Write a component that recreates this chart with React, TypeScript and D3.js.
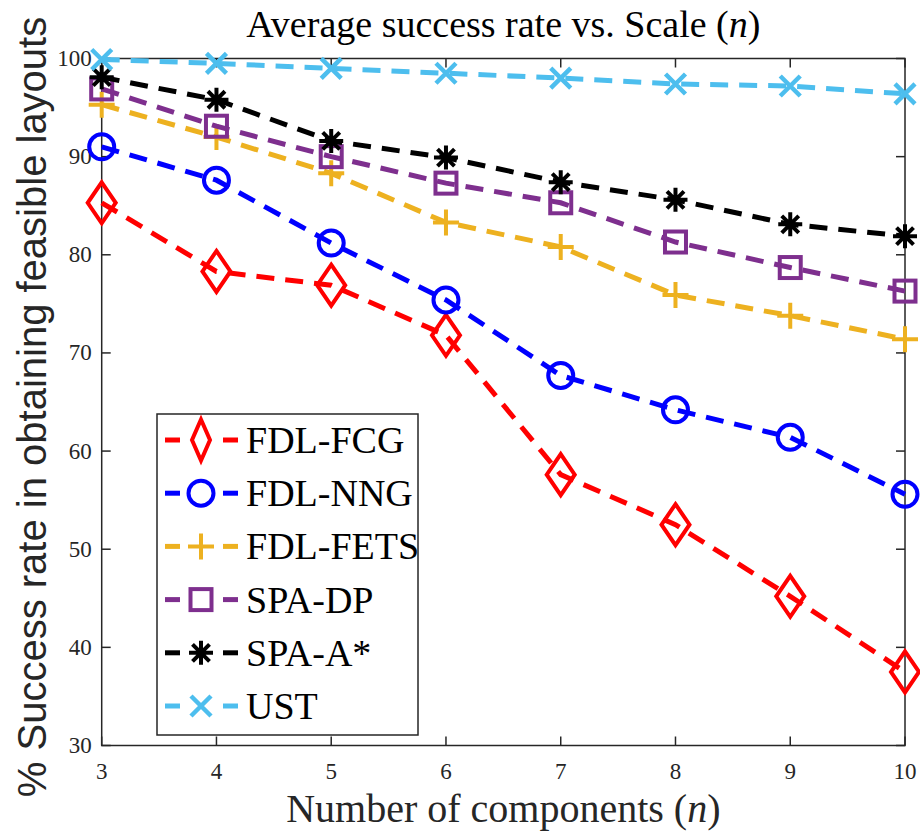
import React from "react";
import * as d3 from "d3";

const nValues = [3, 4, 5, 6, 7, 8, 9, 10];
const fdlFcg = [85.3, 78.3, 76.9, 71.8, 57.6, 52.5, 45.2, 37.5];
const fdlNng = [91.0, 87.6, 81.2, 75.4, 67.7, 64.2, 61.4, 55.6];
const fdlFets = [95.3, 92.0, 88.3, 83.3, 80.8, 75.9, 73.8, 71.4];
const spaDp = [96.9, 93.1, 90.0, 87.3, 85.3, 81.3, 78.7, 76.3];
const spaAstar = [98.1, 95.8, 91.6, 89.9, 87.4, 85.6, 83.1, 81.9];
const ust = [99.9, 99.5, 99.0, 98.5, 98.0, 97.4, 97.2, 96.4];

const seriesNames = ["FDL-FCG", "FDL-NNG", "FDL-FETS", "SPA-DP", "SPA-A*", "UST"];
const seriesColors = ["#ff0000", "#0000ff", "#edb120", "#7e2f8e", "#000000", "#4dbeee"];
const seriesMarkers = ["diamond", "circle", "plus", "square", "asterisk", "cross"];
const seriesValues = [fdlFcg, fdlNng, fdlFets, spaDp, spaAstar, ust];

const yTicks = [30, 40, 50, 60, 70, 80, 90, 100];

const width = 920;
const height = 835;
const left = 101.7;
const right = 905;
const top = 58.5;
const bottom = 745.5;
const axisColor = "#262626";
const serif = "'Liberation Serif', 'Times New Roman', serif";

const x = d3.scaleLinear().domain([3, 10]).range([left, right]);
const y = d3.scaleLinear().domain([30, 100]).range([bottom, top]);

function Marker({ kind, color, cx, cy, legend }: any) {
  const sw = 4;
  const common = { stroke: color, strokeWidth: sw, fill: "none" };
  if (kind === "diamond") {
    const hw = legend ? 9 : 14;
    const hh = 20.5;
    return <path d={`M${cx},${cy - hh}L${cx + hw},${cy}L${cx},${cy + hh}L${cx - hw},${cy}Z`} {...common} strokeLinejoin="miter" />;
  }
  if (kind === "circle") return <circle cx={cx} cy={cy} r={12.5} {...common} />;
  if (kind === "square") return <rect x={cx - 10.5} y={cy - 10.5} width={21} height={21} {...common} />;
  if (kind === "plus") {
    const h = 13;
    return <path d={`M${cx - h},${cy}H${cx + h}M${cx},${cy - h}V${cy + h}`} {...common} />;
  }
  if (kind === "cross") {
    const h = 10;
    return <path d={`M${cx - h},${cy - h}L${cx + h},${cy + h}M${cx - h},${cy + h}L${cx + h},${cy - h}`} {...common} strokeWidth={4.5} />;
  }
  // asterisk
  const h = 12;
  const d = 8.5;
  return (
    <path
      d={`M${cx - h},${cy}H${cx + h}M${cx},${cy - h}V${cy + h}M${cx - d},${cy - d}L${cx + d},${cy + d}M${cx - d},${cy + d}L${cx + d},${cy - d}`}
      {...common}
    />
  );
}

export default function App() {
  const line = d3
    .line<number>()
    .x((_, i) => x(nValues[i]))
    .y((v) => y(v));

  const legendX = 157;
  const legendY = 414;
  const legendW = 261;
  const legendH = 321;
  const rowGap = 53.2;
  const firstRow = 440;

  return (
    <svg width={width} height={height} style={{ position: "absolute", left: 0, top: 0, background: "#fff" }}>
      <rect x={0} y={0} width={width} height={height} fill="#fff" />
      {/* axes box */}
      <rect x={left} y={top} width={right - left} height={bottom - top} fill="none" stroke={axisColor} strokeWidth={1.5} />
      {nValues.map((n) => (
        <g key={"xt" + n}>
          <line x1={x(n)} x2={x(n)} y1={bottom} y2={bottom - 9} stroke={axisColor} strokeWidth={1.5} />
          <line x1={x(n)} x2={x(n)} y1={top} y2={top + 9} stroke={axisColor} strokeWidth={1.5} />
          <text x={x(n)} y={bottom + 33} textAnchor="middle" fontFamily={serif} fontSize={23} fill={axisColor}>
            {n}
          </text>
        </g>
      ))}
      {yTicks.map((t) => (
        <g key={"yt" + t}>
          <line x1={left} x2={left + 9} y1={y(t)} y2={y(t)} stroke={axisColor} strokeWidth={1.5} />
          <line x1={right} x2={right - 9} y1={y(t)} y2={y(t)} stroke={axisColor} strokeWidth={1.5} />
          <text x={left - 10} y={y(t) + 7.5} textAnchor="end" fontFamily={serif} fontSize={23} fill={axisColor}>
            {t}
          </text>
        </g>
      ))}

      {/* series */}
      {seriesValues.map((vals, si) => (
        <g key={seriesNames[si]}>
          <path d={line(vals) || ""} fill="none" stroke={seriesColors[si]} strokeWidth={5} strokeDasharray="18,11" />
          {vals.map((v, i) => (
            <Marker key={i} kind={seriesMarkers[si]} color={seriesColors[si]} cx={x(nValues[i])} cy={y(v)} />
          ))}
        </g>
      ))}

      {/* legend */}
      <rect x={legendX} y={legendY} width={legendW} height={legendH} fill="#fff" stroke={axisColor} strokeWidth={1.5} />
      {seriesNames.map((name, si) => {
        const cy = firstRow + si * rowGap;
        return (
          <g key={"lg" + name}>
            <line x1={165} x2={180} y1={cy} y2={cy} stroke={seriesColors[si]} strokeWidth={5} />
            <line x1={223} x2={238} y1={cy} y2={cy} stroke={seriesColors[si]} strokeWidth={5} />
            <Marker kind={seriesMarkers[si]} color={seriesColors[si]} cx={201} cy={cy} legend />
            <text x={246} y={cy + 13} fontFamily={serif} fontSize={38} fill="#000">
              {name}
            </text>
          </g>
        );
      })}

      {/* title */}
      <text x={(left + right) / 2} y={37} textAnchor="middle" fontFamily={serif} fontSize={38} fill="#000">
        Average success rate vs. Scale (<tspan fontStyle="italic">n</tspan>)
      </text>
      {/* x label */}
      <text x={(left + right) / 2} y={822} textAnchor="middle" fontFamily={serif} fontSize={40} fill={axisColor}>
        Number of components (<tspan fontStyle="italic">n</tspan>)
      </text>
      {/* y label */}
      <text
        transform={`translate(46,${(top + bottom) / 2 + 5}) rotate(-90)`}
        textAnchor="middle"
        fontFamily="'Liberation Sans', Arial, sans-serif"
        fontSize={40}
        fill={axisColor}
      >
        % Success rate in obtaining feasible layouts
      </text>
    </svg>
  );
}
